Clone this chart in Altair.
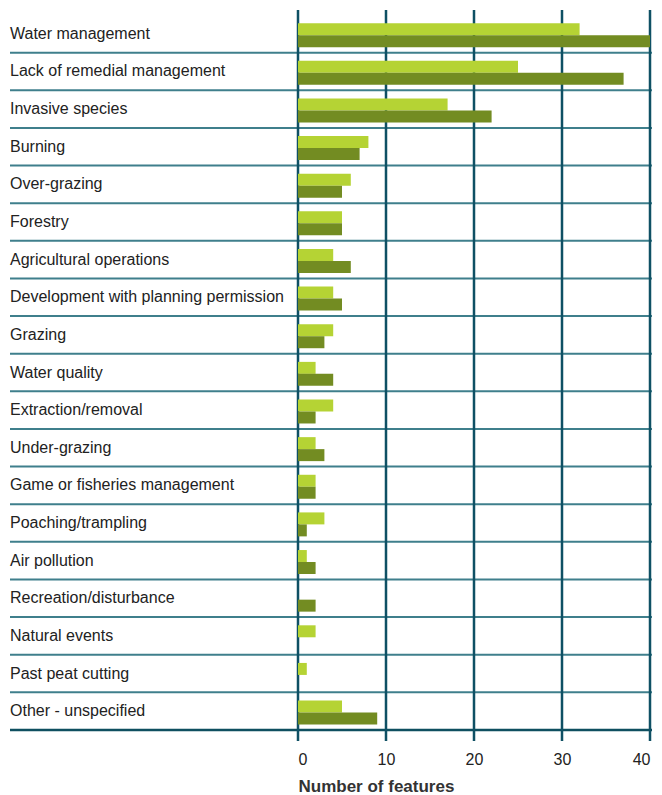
import altair as alt
import pandas as pd

categories = [
    "Water management",
    "Lack of remedial management",
    "Invasive species",
    "Burning",
    "Over-grazing",
    "Forestry",
    "Agricultural operations",
    "Development with planning permission",
    "Grazing",
    "Water quality",
    "Extraction/removal",
    "Under-grazing",
    "Game or fisheries management",
    "Poaching/trampling",
    "Air pollution",
    "Recreation/disturbance",
    "Natural events",
    "Past peat cutting",
    "Other - unspecified",
]
series_names = ["Series A", "Series B"]
values_a = [32, 25, 17, 8, 6, 5, 4, 4, 4, 2, 4, 2, 2, 3, 1, 0, 2, 1, 5]
values_b = [40, 37, 22, 7, 5, 5, 6, 5, 3, 4, 2, 3, 2, 1, 2, 2, 0, 0, 9]
tick_values = [0, 10, 20, 30, 40]
colors = ["#b5d334", "#738c22"]

W = 352
H = 715
LEFT = 288

rows = []
for c, a, b in zip(categories, values_a, values_b):
    rows.append({"cat": c, "series": series_names[0], "value": a})
    rows.append({"cat": c, "series": series_names[1], "value": b})
df = pd.DataFrame(rows)
cat_df = pd.DataFrame({"cat": categories})
sep_df = pd.DataFrame({"cat": categories[1:]})
tick_df = pd.DataFrame({"value": tick_values})

yscale = alt.Scale(domain=categories, paddingInner=0, paddingOuter=0)
xscale = alt.Scale(domain=[0, 40], nice=False, zero=True)
xaxis = alt.Axis(
    values=tick_values,
    grid=False,
    domain=False,
    ticks=True,
    tickSize=11,
    tickOpacity=0,
    labelPadding=10,
    labelFontSize=16,
    labelFont="Liberation Sans",
    labelColor="#222222",
    title="Number of features",
    titleFont="Liberation Sans",
    titleFontSize=17,
    titleFontWeight="bold",
    titleColor="#333333",
    titleAnchor="start",
    titlePadding=11,
)

bars = alt.Chart(df).mark_bar().encode(
    x=alt.X("value:Q", scale=xscale, axis=xaxis),
    y=alt.Y("cat:N", sort=categories, scale=yscale, axis=None),
    yOffset=alt.YOffset(
        "series:N",
        sort=series_names,
        scale=alt.Scale(domain=series_names, paddingOuter=0.57, paddingInner=0, align=0.6),
    ),
    color=alt.Color(
        "series:N",
        scale=alt.Scale(domain=series_names, range=colors),
        legend=None,
    ),
)

seps = alt.Chart(sep_df).mark_rule(color="#3f7f8c", strokeWidth=2).encode(
    y=alt.Y("cat:N", sort=categories, scale=yscale, axis=None, bandPosition=0),
    x=alt.value(-LEFT),
    x2=alt.value(W + 2),
)

bottom = alt.Chart(cat_df.head(1)).mark_rule(color="#0f4f60", strokeWidth=2.5).encode(
    y=alt.value(H),
    x=alt.value(-LEFT),
    x2=alt.value(W + 2),
)

vlines = alt.Chart(tick_df).mark_rule(color="#0f5064", strokeWidth=2.5).encode(
    x=alt.X("value:Q", scale=xscale, axis=xaxis),
    y=alt.value(-5),
    y2=alt.value(H + 11),
)

labels = alt.Chart(cat_df).mark_text(
    align="left", baseline="middle", fontSize=16, font="Liberation Sans", color="#222222"
).encode(
    y=alt.Y("cat:N", sort=categories, scale=yscale, axis=None),
    x=alt.value(-LEFT),
    text="cat:N",
)

chart = (
    alt.layer(seps, bottom, vlines, bars, labels)
    .properties(width=W, height=H, padding={"left": 0, "top": 0, "right": 0, "bottom": 0})
    .configure_view(strokeWidth=0)
)

chart.save("out.html", embed_options={"renderer": "svg", "actions": False})
